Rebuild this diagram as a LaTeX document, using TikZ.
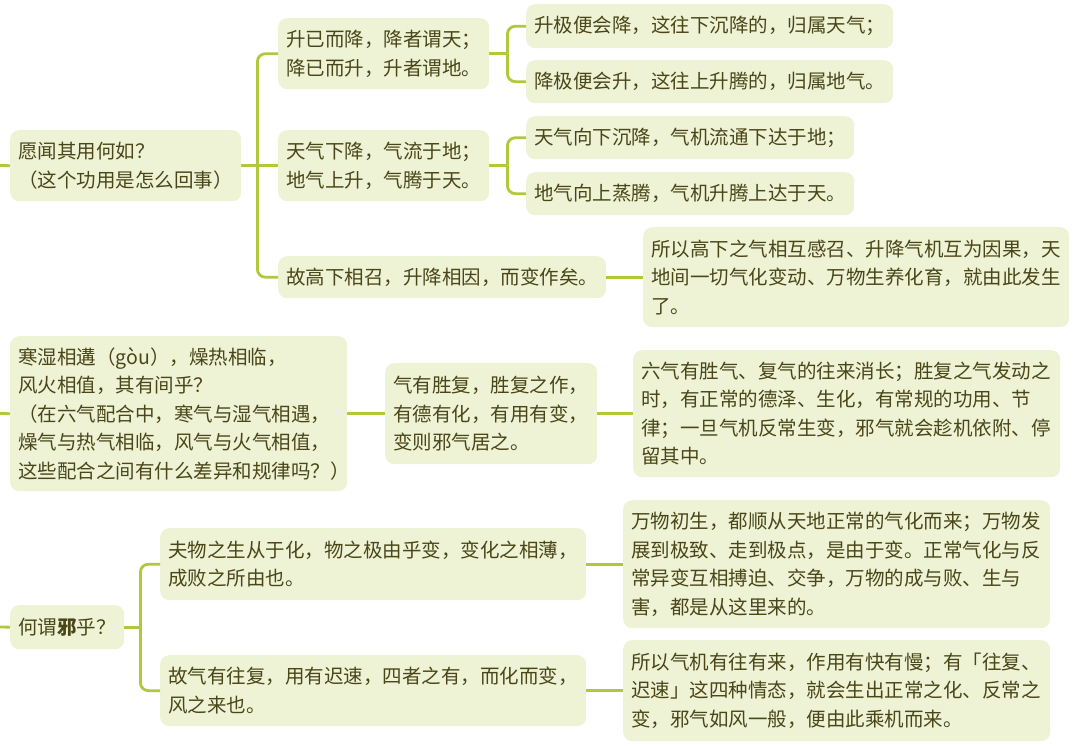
\documentclass[tikz,border=0pt]{standalone}
\usepackage{fontspec}
\setmainfont{Noto Sans CJK SC}
\definecolor{linegreen}{RGB}{176,200,58}
\definecolor{boxfill}{RGB}{238,243,214}
\definecolor{textcol}{RGB}{74,70,24}
\begin{document}
\begin{tikzpicture}[x=1pt,y=-1pt,
  box/.style={rounded corners=9pt, fill=boxfill, text=textcol, inner xsep=8pt, inner ysep=0pt,
    align=left, anchor=north west, font=\fontsize{19.5}{28.5}\selectfont},
  conn/.style={draw=linegreen, line width=2.8pt, rounded corners=8pt}]
\useasboundingbox (0,0) rectangle (1080,746);

% ---- section 1
\node[box, text width=215pt, minimum height=71pt] (r1) at (10,130) {愿闻其用何如？\\（这个功用是怎么回事）};
\node[box, text width=195pt, minimum height=71pt] (a) at (278,18) {升已而降，降者谓天；\\降已而升，升者谓地。};
\node[box, text width=195pt, minimum height=71pt] (b) at (278,130) {天气下降，气流于地；\\地气上升，气腾于天。};
\node[box, text width=312pt, minimum height=42pt] (c) at (278,256) {故高下相召，升降相因，而变作矣。};
\node[box, text width=351pt, minimum height=44pt] (a1) at (526,4) {升极便会降，这往下沉降的，归属天气；};
\node[box, text width=351pt, minimum height=43pt] (a2) at (526,60) {降极便会升，这往上升腾的，归属地气。};
\node[box, text width=312pt, minimum height=43pt] (b1) at (526,116) {天气向下沉降，气机流通下达于地；};
\node[box, text width=312pt, minimum height=43pt] (b2) at (526,172) {地气向上蒸腾，气机升腾上达于天。};
\node[box, text width=410pt, minimum height=100pt] (c1) at (643,227) {所以高下之气相互感召、升降气机互为因果，天\\地间一切气化变动、万物生养化育，就由此发生\\了。};

\coordinate (s1) at (0,165.5);
\coordinate (j1) at ([xshift=16pt]r1.east);
\coordinate (ja) at ([xshift=18pt]a.east);
\coordinate (jb) at ([xshift=18pt]b.east);
\draw[conn] (s1) -- (r1.west);
\draw[conn] (r1.east) -- (b.west);
\draw[conn] (j1) |- (a.west);
\draw[conn] (j1) |- (c.west);
\draw[conn] (a.east) -- (ja);
\draw[conn] (ja) |- (a1.west);
\draw[conn] (ja) |- (a2.west);
\draw[conn] (b.east) -- (jb);
\draw[conn] (jb) |- (b1.west);
\draw[conn] (jb) |- (b2.west);
\draw[conn] (c.east) -- (c1.west);

% ---- section 2
\node[box, text width=321pt, minimum height=155pt] (r2) at (10,336) {寒湿相遘（gòu），燥热相临，\\风火相值，其有间乎？\\（在六气配合中，寒气与湿气相遇，\\燥气与热气相临，风气与火气相值，\\这些配合之间有什么差异和规律吗？）};
\node[box, text width=196pt, minimum height=101pt] (m2) at (385,363) {气有胜复，胜复之作，\\有德有化，有用有变，\\变则邪气居之。};
\node[box, text width=411pt, minimum height=127pt] (x2) at (633,350) {六气有胜气、复气的往来消长；胜复之气发动之\\时，有正常的德泽、生化，有常规的功用、节\\律；一旦气机反常生变，邪气就会趁机依附、停\\留其中。};
\coordinate (s2) at (0,413.5);
\draw[conn] (s2) -- (r2.west);
\draw[conn] (r2.east) -- (m2.west);
\draw[conn] (m2.east) -- (x2.west);

% ---- section 3
\node[box, text width=98pt, minimum height=44pt] (r3) at (10,605) {何谓\textbf{邪}乎？};
\node[box, text width=410pt, minimum height=72pt] (d) at (160,528) {夫物之生从于化，物之极由乎变，变化之相薄，\\成败之所由也。};
\node[box, text width=410pt, minimum height=71pt] (e) at (160,655) {故气有往复，用有迟速，四者之有，而化而变，\\风之来也。};
\node[box, text width=411pt, minimum height=128pt] (d1) at (623,500) {万物初生，都顺从天地正常的气化而来；万物发\\展到极致、走到极点，是由于变。正常气化与反\\常异变互相搏迫、交争，万物的成与败、生与\\害，都是从这里来的。};
\node[box, text width=411pt, minimum height=101pt] (e1) at (623,640) {所以气机有往有来，作用有快有慢；有「往复、\\迟速」这四种情态，就会生出正常之化、反常之\\变，邪气如风一般，便由此乘机而来。};
\coordinate (s3) at (0,627);
\coordinate (j3) at ([xshift=16pt]r3.east);
\draw[conn] (s3) -- (r3.west);
\draw[conn] (r3.east) -- (j3);
\draw[conn] (j3) |- (d.west);
\draw[conn] (j3) |- (e.west);
\draw[conn] (d.east) -- (d1.west);
\draw[conn] (e.east) -- (e1.west);
\end{tikzpicture}
\end{document}
